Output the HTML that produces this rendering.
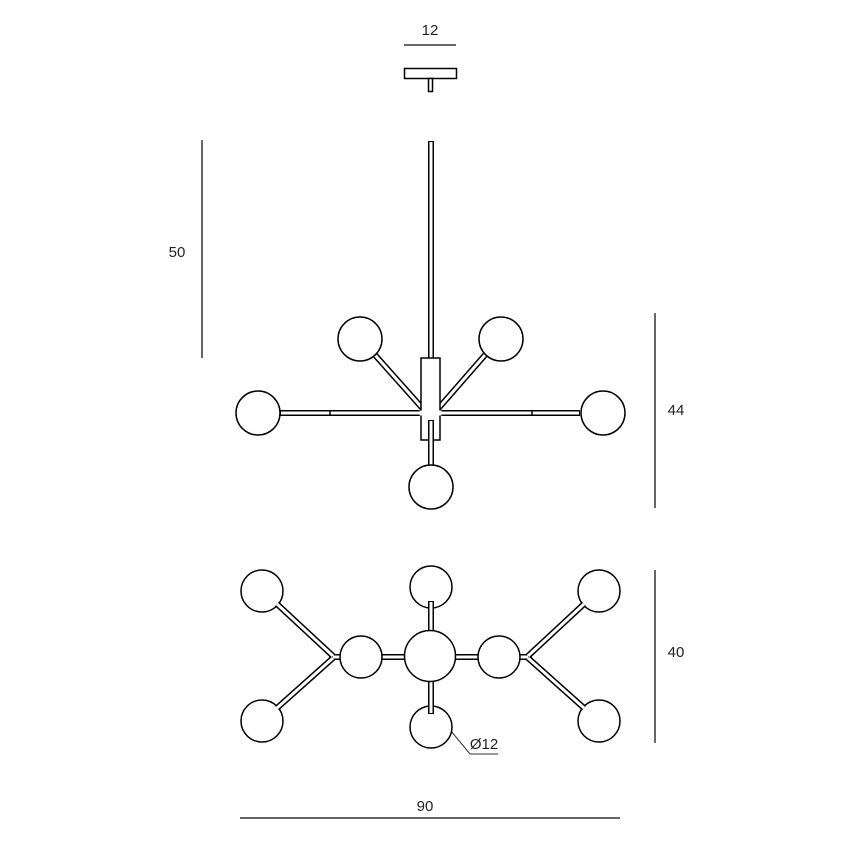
<!DOCTYPE html>
<html><head><style>
html,body{margin:0;padding:0;background:#fff}
text{font-family:"Liberation Sans",sans-serif;font-size:15px;fill:#222}
</style></head><body>
<svg width="850" height="850" viewBox="0 0 850 850" xmlns="http://www.w3.org/2000/svg">
<g stroke="#333" stroke-width="1.5" fill="none">
<line x1="404" y1="45" x2="456" y2="45"/>
<line x1="202" y1="140" x2="202" y2="358"/>
<line x1="655" y1="313" x2="655" y2="508"/>
<line x1="655" y1="570" x2="655" y2="743"/>
<line x1="240" y1="818" x2="620" y2="818"/>
<polyline points="451,731 470,754 498,754" stroke-width="1"/>
</g>
<text x="430" y="35" text-anchor="middle">12</text>
<text x="177" y="257" text-anchor="middle">50</text>
<text x="676" y="415" text-anchor="middle">44</text>
<text x="676" y="657" text-anchor="middle">40</text>
<text x="425" y="811" text-anchor="middle">90</text>
<text x="484" y="749" text-anchor="middle">Ø12</text>

<g stroke="#000" stroke-width="1.5" fill="#fff">
<rect x="404.5" y="68.5" width="52" height="10"/>
<rect x="428.5" y="78.5" width="4" height="13"/>
</g>

<g fill="none">
<g stroke="#000" stroke-width="6">
<line x1="431" y1="141" x2="431" y2="360"/>
<line x1="280" y1="413" x2="580" y2="413"/>
<line x1="375" y1="355" x2="424" y2="410"/>
<line x1="485" y1="355" x2="437" y2="410"/>
</g>
<g stroke="#fff" stroke-width="3">
<line x1="431" y1="142" x2="431" y2="360"/>
<line x1="281" y1="413" x2="579" y2="413"/>
<line x1="375" y1="355" x2="424" y2="410"/>
<line x1="485" y1="355" x2="437" y2="410"/>
</g>
</g>
<g stroke="#000" stroke-width="1.5" fill="none">
<line x1="330" y1="410" x2="330" y2="416"/>
<line x1="532" y1="410" x2="532" y2="416"/>
</g>
<rect x="421" y="358" width="19" height="82" fill="#fff" stroke="#000" stroke-width="1.5"/>
<g stroke="#fff" stroke-width="3"><line x1="440" y1="410.5" x2="440" y2="415.5"/><line x1="421" y1="410.5" x2="421" y2="415.5"/><line x1="422" y1="413" x2="439" y2="413"/></g>
<g stroke="#000" stroke-width="6"><line x1="431" y1="420" x2="431" y2="466"/></g>
<g stroke="#fff" stroke-width="3"><line x1="431" y1="421" x2="431" y2="466"/></g>
<g stroke="#000" stroke-width="1.5" fill="#fff">
<circle cx="258" cy="413" r="22"/>
<circle cx="603" cy="413" r="22"/>
<circle cx="360" cy="339" r="22"/>
<circle cx="501" cy="339" r="22"/>
<circle cx="431" cy="487" r="22"/>
</g>

<!-- plan view -->
<g stroke="#000" stroke-width="1.5" fill="#fff">
<circle cx="262" cy="591" r="21"/>
<circle cx="431" cy="587" r="21"/>
<circle cx="599" cy="591" r="21"/>
<circle cx="262" cy="721" r="21"/>
<circle cx="599" cy="721" r="21"/>
<circle cx="431" cy="727" r="21"/>
</g>
<g fill="none">
<g stroke="#000" stroke-width="6">
<line x1="277" y1="604" x2="333" y2="656"/>
<line x1="277" y1="708" x2="333" y2="658"/>
<line x1="584" y1="604" x2="528" y2="656"/>
<line x1="584" y1="708" x2="528" y2="658"/>
<line x1="329" y1="657" x2="532" y2="657"/>
<line x1="431" y1="601" x2="431" y2="714"/>
</g>
<g stroke="#fff" stroke-width="3">
<line x1="277" y1="604" x2="333" y2="656"/>
<line x1="277" y1="708" x2="333" y2="658"/>
<line x1="584" y1="604" x2="528" y2="656"/>
<line x1="584" y1="708" x2="528" y2="658"/>
<line x1="333" y1="657" x2="528" y2="657"/>
<line x1="431" y1="602" x2="431" y2="713"/>
</g>
</g>
<g stroke="#000" stroke-width="1.5" fill="#fff">
<circle cx="361" cy="657" r="21"/>
<circle cx="499" cy="657" r="21"/>
<circle cx="430" cy="656" r="25.5"/>
</g>
</svg>
</body></html>
